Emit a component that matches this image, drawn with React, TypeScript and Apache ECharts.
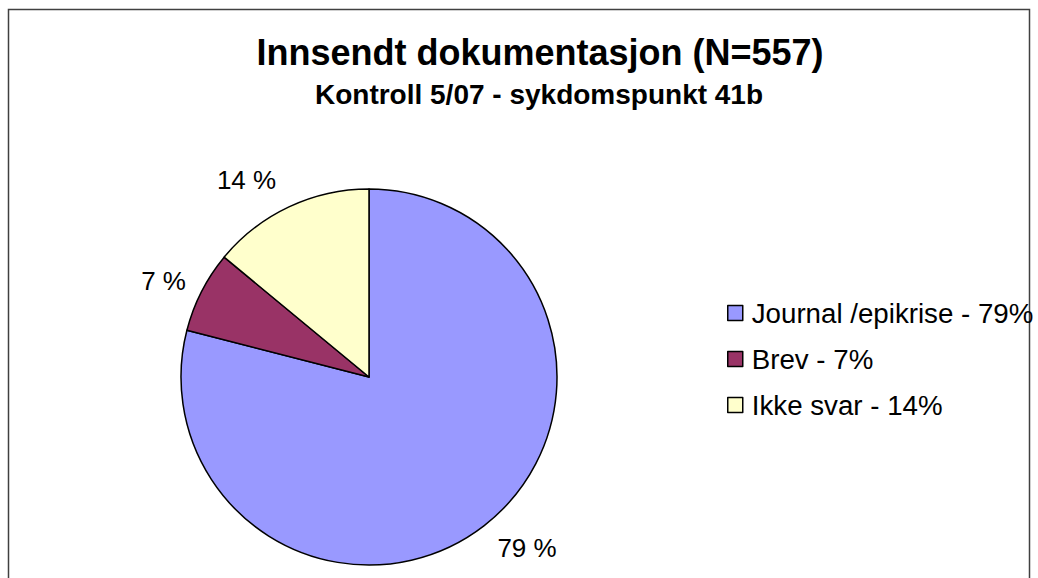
import React, { useEffect, useRef } from "react";
import * as echarts from "echarts";

const categories = ["Journal /epikrise", "Brev", "Ikke svar"];
const values = [79, 7, 14];
const legendLabels = ["Journal /epikrise - 79%", "Brev - 7%", "Ikke svar - 14%"];
const colors = ["#9999FF", "#993366", "#FFFFCC"];
const labelLens = [28, 23, 30];
const labelGaps = [-4, -5, 0];
const titleText = "Innsendt dokumentasjon (N=557)";
const subtitleText = "Kontroll 5/07 - sykdomspunkt 41b";

export default function App() {
  const ref = useRef<HTMLDivElement>(null);
  useEffect(() => {
    if (!ref.current) return;
    const chart = echarts.init(ref.current, null, { renderer: "svg" });
    const font = "'Liberation Sans', Arial, sans-serif";
    chart.setOption({
      animation: false,
      backgroundColor: "#ffffff",
      title: [
        {
          text: titleText,
          left: 540,
          top: 34,
          textAlign: "center",
          padding: 0,
          textStyle: { fontFamily: font, fontSize: 36, fontWeight: "bold", color: "#000" },
        },
        {
          text: subtitleText,
          left: 539,
          top: 80,
          textAlign: "center",
          padding: 0,
          textStyle: { fontFamily: font, fontSize: 28, fontWeight: "bold", color: "#000" },
        },
      ],
      legend: {
        orient: "vertical",
        left: 727,
        top: 298,
        padding: 0,
        itemWidth: 15,
        itemHeight: 15,
        itemGap: 16,
        icon: "rect",
        itemStyle: { borderColor: "#000", borderWidth: 1.5 },
        textStyle: {
          fontFamily: font,
          fontSize: 27.7,
          color: "#000",
          lineHeight: 30,
          padding: [0, 0, 0, 4],
        },
        formatter: (name: string) => legendLabels[categories.indexOf(name)],
        data: categories,
      },
      graphic: [
        {
          type: "rect",
          shape: { x: 8.5, y: 9.5, width: 1021, height: 620 },
          style: { fill: "none", stroke: "#404040", lineWidth: 1.5 },
          silent: true,
        },
      ],
      series: [
        {
          type: "pie",
          center: [369, 377],
          radius: 188,
          startAngle: 90,
          clockwise: true,
          avoidLabelOverlap: false,
          itemStyle: { borderColor: "#000", borderWidth: 1.5 },
          emphasis: { disabled: true },
          label: {
            show: true,
            position: "outside",
            formatter: (p: any) => `${p.value} %`,
            fontFamily: font,
            fontSize: 26,
            color: "#000",
            distanceToLabelLine: 0,
          },
          labelLine: { show: false, length: 25, length2: 0 },
          data: categories.map((c, i) => ({
            name: c,
            value: values[i],
            itemStyle: { color: colors[i] },
            label: { distanceToLabelLine: labelGaps[i] },
            labelLine: { show: false, length: labelLens[i], length2: 0 },
          })),
        },
      ],
    });
    return () => chart.dispose();
  }, []);
  return (
    <div
      ref={ref}
      style={{ position: "absolute", left: 0, top: 0, width: 1038, height: 578 }}
    />
  );
}
